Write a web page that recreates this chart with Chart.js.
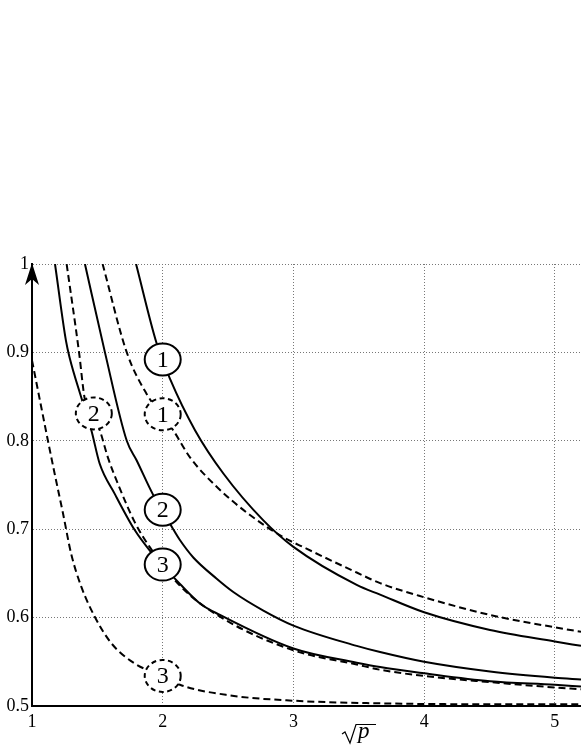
<!DOCTYPE html>
<html>
<head>
<meta charset="utf-8">
<script src="https://cdn.jsdelivr.net/npm/chart.js@4.4.1/dist/chart.umd.min.js"></script>
<style>
  html, body { margin: 0; padding: 0; background: #fff; }
  canvas { display: block; }
</style>
</head>
<body>
<canvas id="curveChart" width="581" height="752"></canvas>
<script>
// ===========================
// Data (x = sqrt(p))
// ===========================

const xTicks = [1, 2, 3, 4, 5];
const yTicks = [0.5, 0.6, 0.7, 0.8, 0.9, 1];

// solid curves
const solid1X = [1.796, 1.954, 2.056, 2.247, 2.464, 2.77, 3.0, 3.484, 3.663, 4.0, 4.504, 5.0, 5.2];
const solid1Y = [1.0, 0.91, 0.87, 0.812, 0.763, 0.71, 0.68, 0.637, 0.626, 0.606, 0.586, 0.573, 0.568];

const solid2X = [1.405, 1.558, 1.725, 1.80, 1.93, 2.0, 2.08, 2.13, 2.234, 2.413, 2.54, 2.77, 3.0, 3.484, 3.663, 4.0, 4.504, 5.0, 5.2];
const solid2Y = [1.0, 0.9, 0.8, 0.778, 0.738, 0.721, 0.70, 0.688, 0.668, 0.644, 0.629, 0.608, 0.591, 0.568, 0.561, 0.55, 0.539, 0.532, 0.53];

const solid3X = [1.176, 1.26, 1.288, 1.377, 1.454, 1.518, 1.633, 1.786, 1.90, 2.0, 2.132, 2.285, 2.438, 3.0, 3.484, 3.663, 4.0, 4.504, 5.0, 5.2];
const solid3Y = [1.0, 0.913, 0.894, 0.849, 0.812, 0.774, 0.74, 0.699, 0.676, 0.659, 0.638, 0.616, 0.603, 0.565, 0.549, 0.544, 0.537, 0.528, 0.524, 0.522];

// dashed curves
const dashed1X = [1.54, 1.725, 1.877, 1.99, 2.08, 2.21, 2.413, 2.668, 2.923, 3.10, 3.484, 3.663, 4.0, 4.504, 5.0, 5.2];
const dashed1Y = [1.0, 0.9, 0.853, 0.83, 0.812, 0.781, 0.748, 0.716, 0.691, 0.678, 0.651, 0.639, 0.623, 0.603, 0.589, 0.584];

const dashed2X = [1.265, 1.36, 1.403, 1.518, 1.581, 1.658, 1.786, 1.9, 2.132, 2.438, 3.0, 3.484, 3.663, 4.0, 4.504, 5.0, 5.2];
const dashed2Y = [1.0, 0.9, 0.848, 0.812, 0.781, 0.751, 0.708, 0.68, 0.636, 0.601, 0.563, 0.547, 0.541, 0.534, 0.527, 0.521, 0.519];

const dashed3X = [1.0, 1.071, 1.122, 1.173, 1.237, 1.30, 1.377, 1.48, 1.607, 1.786, 2.0, 2.132, 2.515, 3.0, 3.663, 4.5, 5.2];
const dashed3Y = [0.891, 0.838, 0.80, 0.763, 0.718, 0.672, 0.635, 0.601, 0.571, 0.548, 0.534, 0.524, 0.512, 0.506, 0.503, 0.502, 0.502];

// curve tags (circled numbers)
const tagX = [2.0, 2.0, 2.0, 2.0, 1.473, 2.0];
const tagY = [0.892, 0.722, 0.66, 0.83, 0.831, 0.534];
const tagText = ['1', '2', '3', '1', '2', '3'];
const tagDashed = [false, false, false, true, true, true];

const SERIF = '"Liberation Serif", "DejaVu Serif", serif';

function toPoints(xs, ys) {
    return xs.map((x, i) => ({ x: x, y: ys[i] }));
}

function curve(xs, ys, dashed) {
    return {
        data: toPoints(xs, ys),
        borderColor: '#000',
        borderWidth: 2,
        borderDash: dashed ? [7, 4] : [],
        pointRadius: 0,
        showLine: true,
        fill: false,
        tension: 0,
        cubicInterpolationMode: 'monotone'
    };
}

// ===========================
// Extra drawing: tags, arrow, axis title
// ===========================

const tagPlugin = {
    id: 'curveTags',
    afterDatasetsDraw(chart) {
        const ctx = chart.ctx;
        const xs = chart.scales.x, ys = chart.scales.y;
        ctx.save();
        for (let i = 0; i < tagX.length; i++) {
            const cx = xs.getPixelForValue(tagX[i]);
            const cy = ys.getPixelForValue(tagY[i]);
            ctx.beginPath();
            ctx.ellipse(cx, cy, 18, 16, 0, 0, Math.PI * 2);
            ctx.fillStyle = '#fff';
            ctx.fill();
            ctx.lineWidth = 2;
            ctx.strokeStyle = '#000';
            ctx.setLineDash(tagDashed[i] ? [5, 3.5] : []);
            ctx.stroke();
            ctx.setLineDash([]);
            ctx.fillStyle = '#000';
            ctx.font = '24px ' + SERIF;
            ctx.textAlign = 'center';
            ctx.textBaseline = 'middle';
            ctx.fillText(tagText[i], cx, cy + 1);
        }
        ctx.restore();
    },
    afterDraw(chart) {
        const ctx = chart.ctx;
        const area = chart.chartArea;
        ctx.save();
        // arrow head on the y axis
        const ax = area.left, ay = area.top - 1;
        ctx.beginPath();
        ctx.moveTo(ax, ay);
        ctx.lineTo(ax + 7, ay + 22);
        ctx.lineTo(ax, ay + 16);
        ctx.lineTo(ax - 7, ay + 22);
        ctx.closePath();
        ctx.fillStyle = '#000';
        ctx.fill();

        // x axis title: sqrt(p)
        const tx = 342, ty = 738;
        ctx.beginPath();
        ctx.moveTo(tx, ty - 4);
        ctx.lineTo(tx + 3, ty - 6);
        ctx.lineTo(tx + 8, ty + 5);
        ctx.lineTo(tx + 14, ty - 13.5);
        ctx.lineTo(tx + 34, ty - 13.5);
        ctx.lineWidth = 1.2;
        ctx.strokeStyle = '#000';
        ctx.stroke();
        ctx.font = 'italic 23px ' + SERIF;
        ctx.textAlign = 'left';
        ctx.textBaseline = 'alphabetic';
        ctx.fillText('p', tx + 16, ty);
        ctx.restore();
    }
};

// ===========================
// Chart
// ===========================

new Chart(document.getElementById('curveChart'), {
    type: 'scatter',
    data: {
        datasets: [
            curve(solid1X, solid1Y, false),
            curve(solid2X, solid2Y, false),
            curve(solid3X, solid3Y, false),
            curve(dashed1X, dashed1Y, true),
            curve(dashed2X, dashed2Y, true),
            curve(dashed3X, dashed3Y, true)
        ]
    },
    options: {
        responsive: false,
        animation: false,
        events: [],
        layout: { padding: { top: 264, right: 0, bottom: 0, left: 0 } },
        plugins: {
            legend: { display: false },
            tooltip: { enabled: false }
        },
        scales: {
            x: {
                type: 'linear',
                min: 1,
                max: 5.2,
                afterBuildTicks: s => { s.ticks = xTicks.map(v => ({ value: v })); },
                afterFit: s => { s.height = 46; },
                grid: { color: '#777', lineWidth: 1, drawTicks: false },
                border: { display: true, color: '#000', width: 2, dash: [1, 2] },
                ticks: {
                    padding: 5,
                    color: '#000',
                    maxRotation: 0,
                    autoSkip: false,
                    font: { family: SERIF, size: 18 },
                    callback: v => String(v)
                }
            },
            y: {
                type: 'linear',
                min: 0.5,
                max: 1,
                afterBuildTicks: s => { s.ticks = yTicks.map(v => ({ value: v })); },
                afterFit: s => { s.width = 32; },
                grid: { color: '#777', lineWidth: 1, drawTicks: false },
                border: { display: true, color: '#000', width: 2, dash: [1, 2] },
                ticks: {
                    padding: 3,
                    color: '#000',
                    autoSkip: false,
                    font: { family: SERIF, size: 18 },
                    callback: v => String(Number(v.toFixed(1)))
                }
            }
        }
    },
    plugins: [tagPlugin]
});
</script>
</body>
</html>
